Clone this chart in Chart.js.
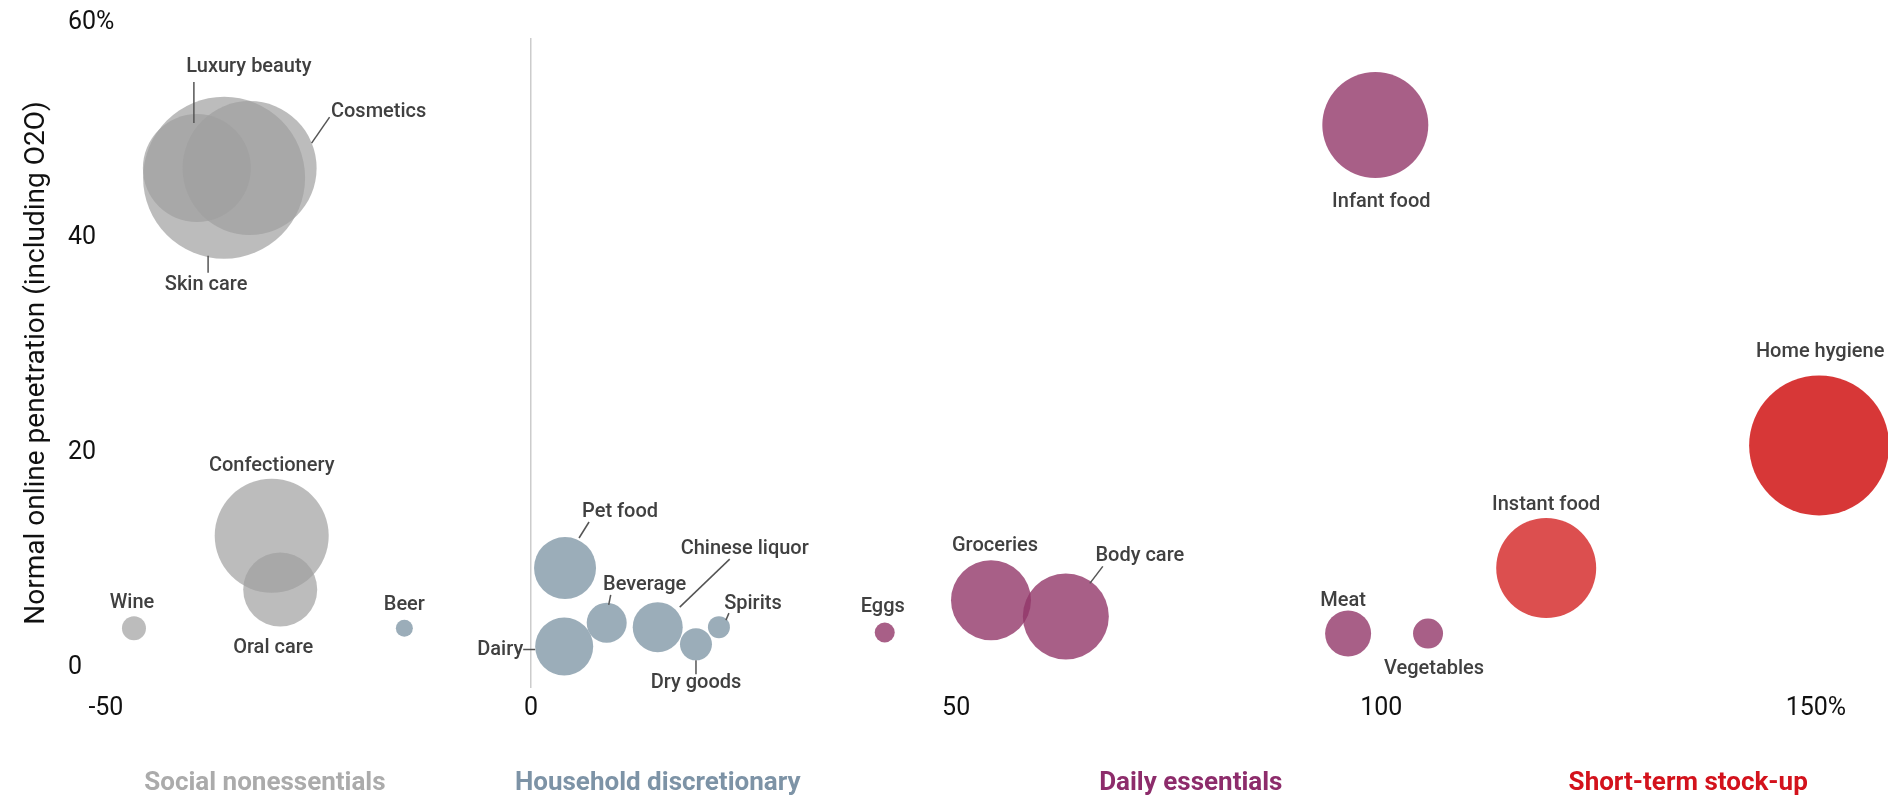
<!DOCTYPE html>
<html>
<head>
<meta charset="utf-8">
<script src="https://cdn.jsdelivr.net/npm/chart.js@4/dist/chart.umd.min.js"></script>
<style>
  html, body { margin: 0; padding: 0; background: #ffffff; }
  #wrap { width: 1888px; height: 797px; }
</style>
</head>
<body>
<div id="wrap"><canvas id="c" width="1888" height="797"></canvas></div>
<script>
// ---- Data ----
const categories = ['Social nonessentials', 'Household discretionary', 'Daily essentials', 'Short-term stock-up'];
const itemNames = ['Luxury beauty', 'Skin care', 'Cosmetics', 'Confectionery', 'Oral care', 'Wine',
  'Beer', 'Pet food', 'Beverage', 'Chinese liquor', 'Spirits', 'Dairy', 'Dry goods',
  'Eggs', 'Groceries', 'Body care', 'Infant food', 'Meat', 'Vegetables',
  'Instant food', 'Home hygiene'];
const itemCategory = [0, 0, 0, 0, 0, 0,
  1, 1, 1, 1, 1, 1, 1,
  2, 2, 2, 2, 2, 2,
  3, 3];
// x: change vs normal (%), y: normal online penetration (%), size: bubble radius
const changeX = [-39.3, -36.1, -33.1, -30.5, -29.5, -46.7,
  -14.9, 4.0, 8.9, 14.9, 22.1, 3.9, 19.4,
  41.6, 54.1, 62.9, 99.3, 96.1, 105.5,
  119.4, 151.5];
const penetrationY = [46.5, 45.6, 46.5, 12.3, 7.3, 3.7,
  3.7, 9.3, 4.2, 3.8, 3.8, 2.0, 2.2,
  3.3, 6.3, 4.8, 50.5, 3.2, 3.2,
  9.3, 20.7];
const bubbleSize = [54, 81, 67, 57, 37, 12,
  8.5, 31, 20, 25, 11, 29, 16,
  10, 40, 43, 53, 23, 15,
  50, 70];
const xTickValues = [-50, 0, 50, 100, 150];
const xTickLabels = ['-50', '0', '50', '100', '\u2007\u2009150%'];
const yTickValues = [0, 20, 40, 60];
const yTickLabels = ['0', '20', '40', '60%'];
const categoryLabelX = [-31.3, 14.9, 77.6, 136.1];

// ---- Styles / annotation placement (pixel offsets from bubble centre) ----
const categoryFill = ['rgba(160,160,160,0.7)', 'rgba(130,152,168,0.8)', 'rgba(146,55,105,0.8)', 'rgba(208,20,20,0.85)'];
const fillOverride = { 'Instant food': 'rgba(208,20,20,0.75)' };
const categoryTextColor = ['#ababab', '#7d93a6', '#8d2c6b', '#d3121c'];
const labelPlacement = {
  'Luxury beauty': { t: [52, -101], l: [-3, -86, -3, -45] },
  'Cosmetics': { t: [129, -56], l: [80, -51, 62, -25] },
  'Skin care': { t: [-18, 107], l: [-16, 78, -16, 95] },
  'Confectionery': { t: [0, -70] },
  'Oral care': { t: [-7, 58] },
  'Wine': { t: [-2, -25] },
  'Beer': { t: [0, -23] },
  'Pet food': { t: [55, -56], l: [24, -46, 14, -30] },
  'Beverage': { t: [38, -38], l: [4, -28, 2, -18] },
  'Chinese liquor': { t: [87, -78], l: [72, -68, 22, -20] },
  'Spirits': { t: [34, -23], l: [10, -14, 7, -7] },
  'Dairy': { t: [-64, 3], l: [-41, 3, -29, 3] },
  'Dry goods': { t: [0, 39], l: [0, 16, 0, 30] },
  'Eggs': { t: [-2, -26] },
  'Groceries': { t: [4, -54] },
  'Body care': { t: [74, -60], l: [37, -50, 24, -33] },
  'Infant food': { t: [6, 77] },
  'Meat': { t: [-5, -33] },
  'Vegetables': { t: [6, 35] },
  'Instant food': { t: [0, -63] },
  'Home hygiene': { t: [1, -93] }
};

const FONT = 'Roboto, "Noto Sans", sans-serif';

// Bubbles may overflow the plot edge as in the original; don't shrink the plot for them.
Chart.BubbleController.prototype.getMaxOverflow = function () { return 0; };

const datasets = categories.map((cat, ci) => {
  const idx = itemNames.map((n, i) => i).filter(i => itemCategory[i] === ci);
  return {
    label: cat,
    names: idx.map(i => itemNames[i]),
    data: idx.map(i => ({ x: changeX[i], y: penetrationY[i], r: bubbleSize[i] })),
    backgroundColor: idx.map(i => fillOverride[itemNames[i]] || categoryFill[ci]),
    borderWidth: 0,
    hoverBorderWidth: 0,
    clip: false
  };
});

const bubbleLabels = {
  id: 'bubbleLabels',
  afterDatasetsDraw(chart) {
    const ctx = chart.ctx;
    ctx.save();
    ctx.font = '500 20px ' + FONT;
    ctx.textAlign = 'center';
    ctx.textBaseline = 'middle';
    chart.data.datasets.forEach((ds, di) => {
      const meta = chart.getDatasetMeta(di);
      meta.data.forEach((el, j) => {
        const p = labelPlacement[ds.names[j]];
        if (!p) return;
        if (p.l) {
          ctx.strokeStyle = '#555555';
          ctx.lineWidth = 1.5;
          ctx.beginPath();
          ctx.moveTo(el.x + p.l[0], el.y + p.l[1]);
          ctx.lineTo(el.x + p.l[2], el.y + p.l[3]);
          ctx.stroke();
        }
        ctx.fillStyle = '#404040';
        ctx.fillText(ds.names[j], el.x + p.t[0], el.y + p.t[1]);
      });
    });
    ctx.restore();
  }
};

const categoryLabels = {
  id: 'categoryLabels',
  afterDraw(chart) {
    const ctx = chart.ctx;
    const xs = chart.scales.x;
    ctx.save();
    ctx.font = 'bold 26px ' + FONT;
    ctx.textAlign = 'center';
    ctx.textBaseline = 'alphabetic';
    categories.forEach((c, i) => {
      ctx.fillStyle = categoryTextColor[i];
      ctx.fillText(c, xs.getPixelForValue(categoryLabelX[i]), chart.chartArea.bottom + 102);
    });
    ctx.restore();
  }
};

new Chart(document.getElementById('c'), {
  type: 'bubble',
  data: { datasets },
  plugins: [bubbleLabels, categoryLabels],
  options: {
    responsive: false,
    animation: false,
    devicePixelRatio: 1,
    events: [],
    layout: { padding: { top: 38, left: 0, right: 0, bottom: 0 } },
    plugins: { legend: { display: false }, tooltip: { enabled: false } },
    scales: {
      x: {
        type: 'linear',
        min: -55.4,
        max: 159.6,
        afterBuildTicks: (axis) => { axis.ticks = xTickValues.map(v => ({ value: v })); },
        afterFit: (axis) => { axis.height = 109; axis.paddingLeft = 0; axis.paddingRight = 0; },
        ticks: {
          autoSkip: false,
          maxRotation: 0,
          padding: 6,
          color: '#111111',
          font: { family: FONT, size: 25 },
          callback: (v) => xTickLabels[xTickValues.indexOf(v)]
        },
        grid: {
          drawTicks: false,
          lineWidth: 1.5,
          color: (c) => (c.tick && c.tick.value === 0) ? '#cccccc' : 'rgba(0,0,0,0)'
        },
        border: { display: false }
      },
      y: {
        type: 'linear',
        min: -1.86,
        max: 58.6,
        afterBuildTicks: (axis) => { axis.ticks = yTickValues.map(v => ({ value: v })); },
        afterFit: (axis) => { axis.width = 60; axis.paddingTop = 0; axis.paddingBottom = 0; },
        title: {
          display: true,
          text: 'Normal online penetration (including O2O)',
          color: '#111111',
          font: { family: FONT, size: 28 },
          padding: { top: 20, bottom: 0 }
        },
        ticks: {
          autoSkip: false,
          mirror: true,
          crossAlign: 'near',
          padding: 8,
          color: '#111111',
          font: { family: FONT, size: 25 },
          callback: (v) => yTickLabels[yTickValues.indexOf(v)]
        },
        grid: { display: false, drawTicks: false },
        border: { display: false }
      }
    }
  }
});
</script>
</body>
</html>
